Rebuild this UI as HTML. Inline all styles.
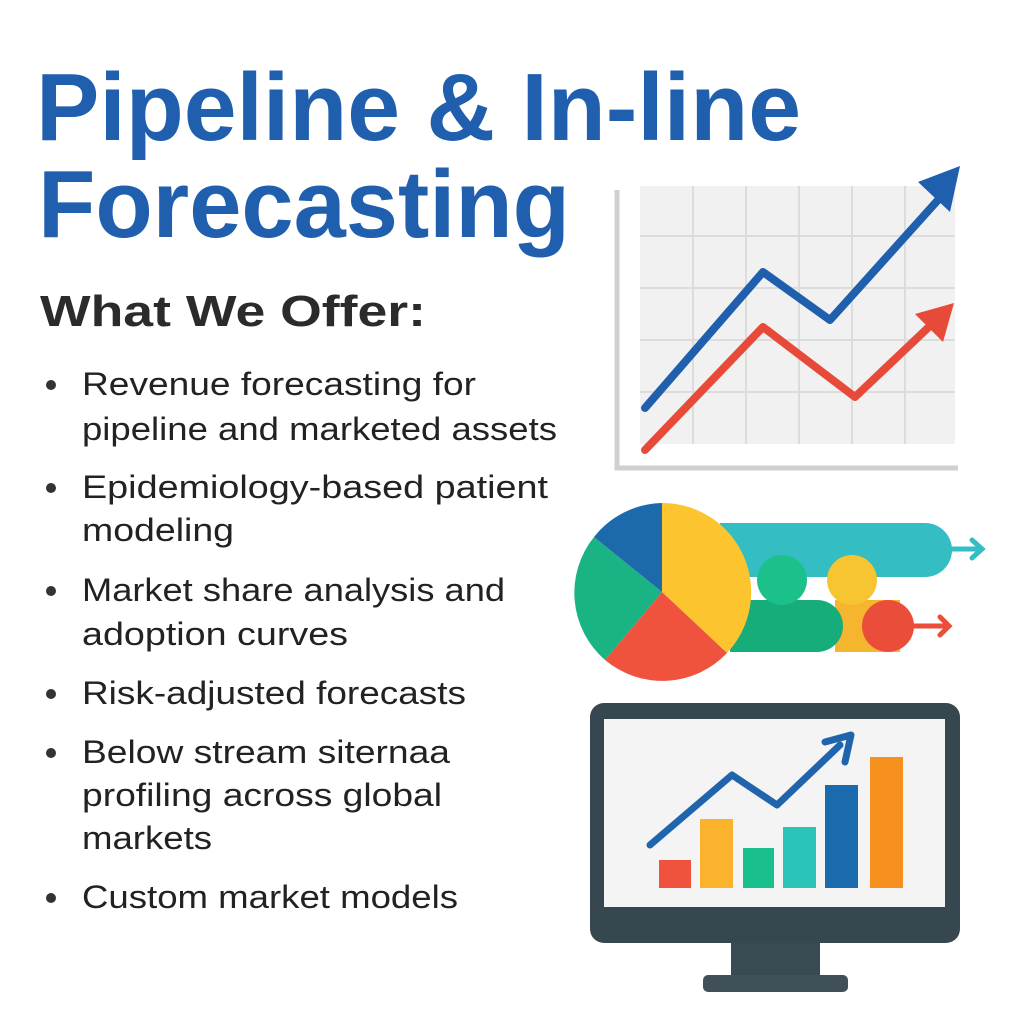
<!DOCTYPE html>
<html><head><meta charset="utf-8"><style>html,body{margin:0;padding:0;background:#fff}svg{display:block}</style></head><body>
<svg width="1024" height="1024" viewBox="0 0 1024 1024" xmlns="http://www.w3.org/2000/svg" font-family="Liberation Sans, sans-serif">
<rect width="1024" height="1024" fill="#fff"/>
<text x="36" y="140" font-size="96" font-weight="bold" fill="#1f5fae" textLength="765" lengthAdjust="spacingAndGlyphs">Pipeline &amp; In-line</text>
<text x="38" y="237" font-size="96" font-weight="bold" fill="#1f5fae" textLength="532" lengthAdjust="spacingAndGlyphs">Forecasting</text>
<text x="40" y="326" font-size="44" font-weight="bold" fill="#2b2b2b" textLength="386" lengthAdjust="spacingAndGlyphs">What We Offer:</text>
<g font-size="32" fill="#222">
<text x="82" y="395" textLength="394" lengthAdjust="spacingAndGlyphs">Revenue forecasting for</text>
<text x="82" y="440" textLength="475" lengthAdjust="spacingAndGlyphs">pipeline and marketed assets</text>
<text x="82" y="498" textLength="466" lengthAdjust="spacingAndGlyphs">Epidemiology-based patient</text>
<text x="82" y="541" textLength="152" lengthAdjust="spacingAndGlyphs">modeling</text>
<text x="82" y="601" textLength="423" lengthAdjust="spacingAndGlyphs">Market share analysis and</text>
<text x="82" y="645" textLength="266" lengthAdjust="spacingAndGlyphs">adoption curves</text>
<text x="82" y="704" textLength="384" lengthAdjust="spacingAndGlyphs">Risk-adjusted forecasts</text>
<text x="82" y="763" textLength="368" lengthAdjust="spacingAndGlyphs">Below stream siternaa</text>
<text x="82" y="806" textLength="360" lengthAdjust="spacingAndGlyphs">profiling across global</text>
<text x="82" y="849" textLength="130" lengthAdjust="spacingAndGlyphs">markets</text>
<text x="82" y="908" textLength="376" lengthAdjust="spacingAndGlyphs">Custom market models</text>
</g>
<g fill="#333"><circle cx="51" cy="385" r="5"/><circle cx="51" cy="488" r="5"/><circle cx="51" cy="591" r="5"/><circle cx="51" cy="694" r="5"/><circle cx="51" cy="753" r="5"/><circle cx="51" cy="898" r="5"/></g>

<rect x="640" y="186" width="315" height="258" fill="#f1f1f1"/>
<g stroke="#dcdcdc" stroke-width="2">
<line x1="640" y1="236" x2="955" y2="236"/><line x1="640" y1="288" x2="955" y2="288"/><line x1="640" y1="340" x2="955" y2="340"/><line x1="640" y1="392" x2="955" y2="392"/>
<line x1="693" y1="186" x2="693" y2="444"/><line x1="746" y1="186" x2="746" y2="444"/><line x1="799" y1="186" x2="799" y2="444"/><line x1="852" y1="186" x2="852" y2="444"/><line x1="905" y1="186" x2="905" y2="444"/>
</g>
<polyline points="617,190 617,468 958,468" fill="none" stroke="#d0d0d0" stroke-width="5"/>
<polyline points="645,408 763,272 830,320 938,200" fill="none" stroke="#1f5fae" stroke-width="8" stroke-linejoin="round" stroke-linecap="round"/>
<polygon points="960,166 950,212 918,182" fill="#1f5fae"/>
<polyline points="645,450 763,327 855,397 932,324" fill="none" stroke="#e84a3a" stroke-width="8" stroke-linejoin="round" stroke-linecap="round"/>
<polygon points="954,303 943,342 915,314" fill="#e84a3a"/>

<path d="M720 523 H925 A27 27 0 0 1 925 577 H720 Z" fill="#35bdc4"/>
<line x1="945" y1="549" x2="982" y2="549" stroke="#35bdc4" stroke-width="5"/>
<polyline points="972,540 982,549 972,558" fill="none" stroke="#35bdc4" stroke-width="5" stroke-linecap="round"/>
<path d="M835 600 H900 V652 H835 Z" fill="#f6b52e"/>
<path d="M730 600 H817 A26 26 0 0 1 817 652 H730 Z" fill="#16ad7a"/>
<circle cx="782" cy="580" r="25" fill="#1cc08a"/>
<circle cx="852" cy="580" r="25" fill="#f7c531"/>
<circle cx="888" cy="626" r="26" fill="#ea4e3b"/>
<line x1="910" y1="626" x2="948" y2="626" stroke="#ea4e3b" stroke-width="5"/>
<polyline points="940,617 949,626 940,635" fill="none" stroke="#ea4e3b" stroke-width="5" stroke-linecap="round"/>
<path d="M662 592 L662 503 A89 89 0 0 1 727 653 Z" fill="#fcc42f"/>
<path d="M662 592 L727 653 A89 89 0 0 1 605 660 Z" fill="#ef523d"/>
<path d="M662 592 L605 660 A89 89 0 0 1 594 537 Z" fill="#1ab384"/>
<path d="M662 592 L594 537 A89 89 0 0 1 662 503 Z" fill="#1c6aac"/>

<rect x="731" y="940" width="89" height="38" fill="#3a4a52"/>
<rect x="703" y="975" width="145" height="17" rx="5" fill="#3f5059"/>
<rect x="590" y="703" width="370" height="240" rx="14" fill="#37474f"/>
<rect x="604" y="719" width="341" height="188" fill="#f4f4f4"/>
<rect x="659" y="860" width="32" height="28" fill="#ef523d"/>
<rect x="700" y="819" width="33" height="69" fill="#fbb22c"/>
<rect x="743" y="848" width="31" height="40" fill="#19c08e"/>
<rect x="783" y="827" width="33" height="61" fill="#2cc4b8"/>
<rect x="825" y="785" width="33" height="103" fill="#1a6bad"/>
<rect x="870" y="757" width="33" height="131" fill="#f6901e"/>
<polyline points="650,845 732,775 777,805 840,745" fill="none" stroke="#1f64ad" stroke-width="7" stroke-linejoin="round" stroke-linecap="round"/>
<polyline points="825,742 851,735 845,762" fill="none" stroke="#1f64ad" stroke-width="7" stroke-linejoin="round" stroke-linecap="round"/>
</svg>
</body></html>
